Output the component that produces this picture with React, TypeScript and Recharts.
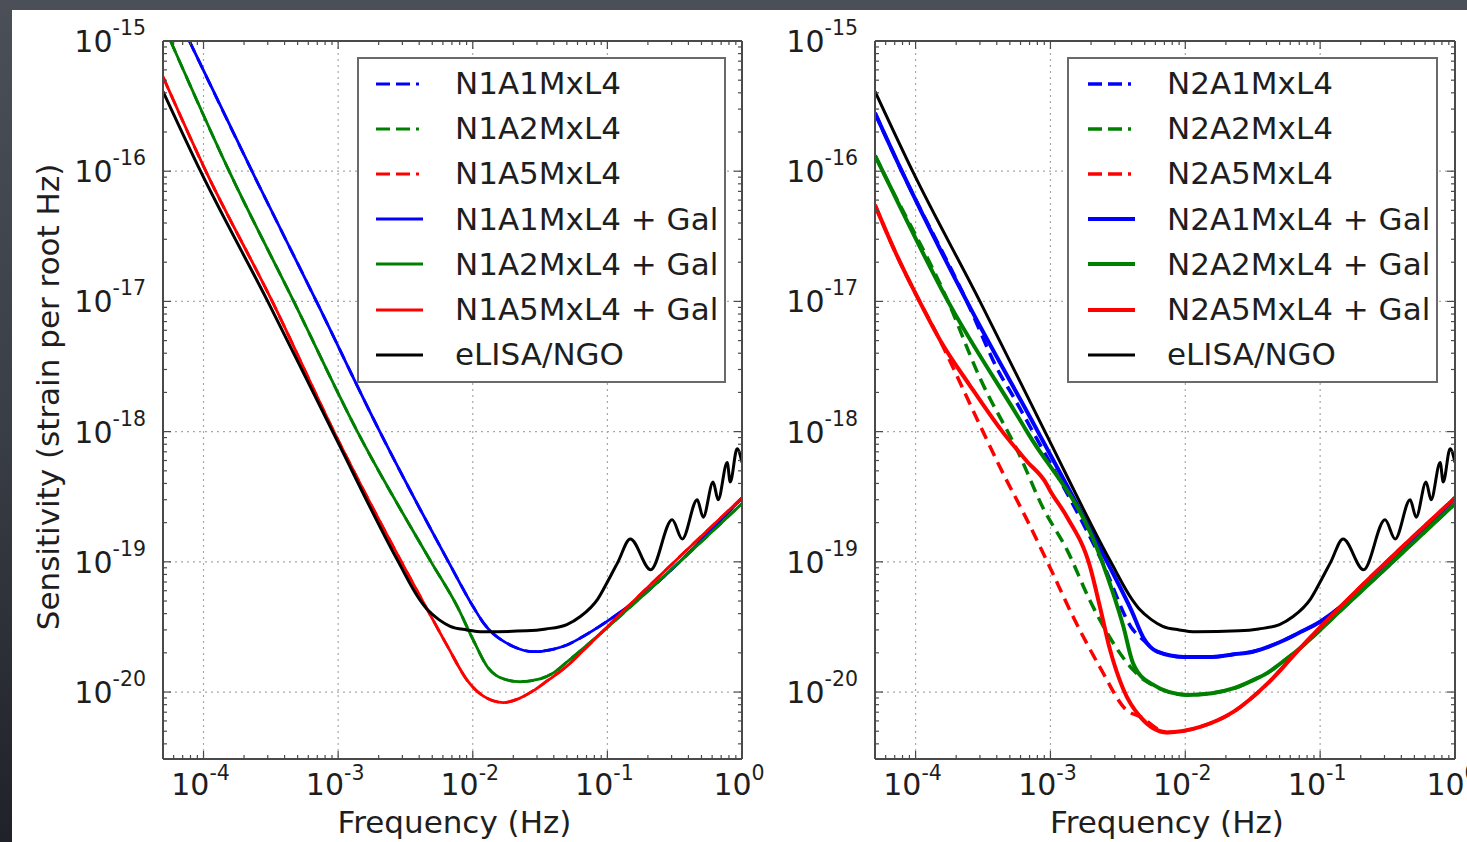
import React from 'react';
import { LineChart, Line, XAxis, YAxis, CartesianGrid, Legend } from 'recharts';

type Pt = [number, number]; // [frequency Hz, strain per root Hz]

// eLISA/NGO reference sensitivity (same curve on both panels)
const elisaNgo: Pt[] = [
  [5.0e-5, 4.1e-16], [9.5e-5, 1.0e-16], [3.0e-4, 1.0e-17], [9.1e-4, 1.0e-18],
  [2.8e-3, 1.0e-19], [4.0e-3, 5.2e-20], [4.6e-3, 4.3e-20], [5.6e-3, 3.6e-20],
  [6.8e-3, 3.2e-20], [9.0e-3, 3.0e-20], [1.2e-2, 2.9e-20], [2.5e-2, 2.95e-20],
  [3.5e-2, 3.05e-20], [5.0e-2, 3.3e-20], [6.3e-2, 3.8e-20], [8.5e-2, 5.2e-20],
  [0.1, 7.0e-20], [0.12, 1.0e-19], [0.148, 1.5e-19], [0.21, 8.7e-20],
  [0.303, 2.1e-19], [0.36, 1.5e-19], [0.465, 3.0e-19], [0.515, 2.2e-19],
  [0.61, 4.1e-19], [0.665, 3.0e-19], [0.776, 5.8e-19], [0.818, 4.1e-19],
  [0.92, 7.4e-19], [1.0, 5.8e-19],
];

// left panel, N1 configurations
const n1a1Gal: Pt[] = [
  [7.85e-5, 1.0e-15], [2.29e-4, 1.0e-16], [6.9e-4, 1.0e-17], [2.04e-3, 1.0e-18],
  [6.6e-3, 1.0e-19], [1.01e-2, 4.5e-20], [1.2e-2, 3.4e-20], [1.42e-2, 2.8e-20],
  [1.7e-2, 2.45e-20], [2.0e-2, 2.24e-20], [2.8e-2, 2.04e-20], [4.0e-2, 2.14e-20],
  [5.0e-2, 2.3e-20], [6.3e-2, 2.6e-20], [0.1, 3.5e-20], [0.141, 4.5e-20],
  [1.0, 3.1e-19],
];
const n1a2Gal: Pt[] = [
  [5.69e-5, 1.0e-15], [1.55e-4, 1.0e-16], [4.68e-4, 1.0e-17], [1.39e-3, 1.0e-18],
  [4.9e-3, 1.0e-19], [7.7e-3, 4.5e-20], [1.01e-2, 2.5e-20], [1.29e-2, 1.55e-20],
  [1.6e-2, 1.29e-20], [2.25e-2, 1.2e-20], [3.16e-2, 1.26e-20], [4.0e-2, 1.41e-20],
  [5.0e-2, 1.7e-20], [7.1e-2, 2.3e-20], [0.141, 4.3e-20], [1.0, 2.8e-19],
];
const n1a5Gal: Pt[] = [
  [5.0e-5, 5.3e-16], [1.04e-4, 1.0e-16], [3.24e-4, 1.0e-17], [9.3e-4, 1.0e-18],
  [2.95e-3, 1.0e-19], [4.6e-3, 4.3e-20], [6.5e-3, 2.24e-20], [9.1e-3, 1.23e-20],
  [1.2e-2, 9.3e-21], [1.69e-2, 8.3e-21], [2.2e-2, 8.9e-21], [2.8e-2, 1.02e-20],
  [3.5e-2, 1.2e-20], [5.0e-2, 1.58e-20], [7.1e-2, 2.24e-20], [0.141, 4.5e-20],
  [1.0, 3.1e-19],
];
// without the galaxy the N1 curves lie under the "+ Gal" ones
const n1a1 = n1a1Gal;
const n1a2 = n1a2Gal;
const n1a5 = n1a5Gal;

// right panel, N2 configurations
const n2a1: Pt[] = [
  [5.0e-5, 2.8e-16], [7.9e-5, 1.0e-16], [2.4e-4, 1.0e-17], [4.2e-4, 2.8e-18],
  [5.3e-4, 1.86e-18], [7.4e-4, 1.0e-18], [2.42e-3, 1.0e-19], [4.1e-3, 3.0e-20],
  [4.9e-3, 2.5e-20], [6.2e-3, 2.04e-20], [9.7e-3, 1.86e-20], [1.58e-2, 1.86e-20],
  [2.3e-2, 1.95e-20], [3.16e-2, 2.04e-20], [5.4e-2, 2.5e-20], [7.2e-2, 2.9e-20],
  [0.1, 3.47e-20], [0.141, 4.5e-20], [1.0, 3.1e-19],
];
const n2a2: Pt[] = [
  [5.0e-5, 1.32e-16], [5.7e-5, 1.0e-16], [1.74e-4, 1.0e-17], [2.99e-4, 2.6e-18],
  [5.9e-4, 6.6e-19], [8.8e-4, 2.6e-19], [1.33e-3, 1.23e-19], [1.97e-3, 5.0e-20],
  [2.77e-3, 2.6e-20], [4.1e-3, 1.48e-20], [5.0e-3, 1.23e-20], [1.04e-2, 9.5e-21],
  [1.58e-2, 9.8e-21], [2.3e-2, 1.07e-20], [3.16e-2, 1.23e-20], [4.1e-2, 1.41e-20],
  [5.4e-2, 1.74e-20], [7.2e-2, 2.2e-20], [0.141, 4.2e-20], [1.0, 2.8e-19],
];
const n2a5: Pt[] = [
  [5.0e-5, 5.5e-17], [7.0e-5, 2.45e-17], [1.07e-4, 1.0e-17], [1.27e-4, 7.2e-18],
  [3.16e-4, 1.0e-18], [4.2e-4, 5.4e-19], [6.7e-4, 2.1e-19], [9.9e-4, 9.1e-20],
  [1.47e-3, 3.8e-20], [2.33e-3, 1.55e-20], [3.7e-3, 7.2e-21], [4.6e-3, 6.5e-21],
  [7.3e-3, 4.9e-21], [1.29e-2, 5.4e-21], [2.3e-2, 7.1e-21], [4.1e-2, 1.17e-20],
  [7.2e-2, 2.2e-20], [0.141, 4.5e-20], [1.0, 3.1e-19],
];
const n2a1Gal: Pt[] = [
  [5.0e-5, 2.8e-16], [7.9e-5, 1.0e-16], [2.4e-4, 1.0e-17], [8.07e-4, 1.0e-18],
  [2.63e-3, 1.0e-19], [4.0e-3, 4.2e-20], [4.9e-3, 2.6e-20], [6.2e-3, 2.04e-20],
  [9.7e-3, 1.86e-20], [1.58e-2, 1.86e-20], [2.3e-2, 1.95e-20], [3.16e-2, 2.04e-20],
  [5.4e-2, 2.5e-20], [7.2e-2, 2.9e-20], [0.1, 3.47e-20], [0.141, 4.5e-20],
  [1.0, 3.1e-19],
];
const n2a2Gal: Pt[] = [
  [5.0e-5, 1.32e-16], [5.7e-5, 1.0e-16], [1.74e-4, 1.0e-17], [6.7e-4, 1.0e-18],
  [2.42e-3, 1.0e-19], [3.47e-3, 3.2e-20], [4.1e-3, 1.66e-20], [5.5e-3, 1.17e-20],
  [1.04e-2, 9.5e-21], [1.58e-2, 9.8e-21], [2.3e-2, 1.07e-20], [3.16e-2, 1.23e-20],
  [4.1e-2, 1.41e-20], [5.4e-2, 1.74e-20], [7.2e-2, 2.2e-20], [0.141, 4.2e-20],
  [1.0, 2.8e-19],
];
const n2a5Gal: Pt[] = [
  [5.0e-5, 5.5e-17], [7.0e-5, 2.45e-17], [1.07e-4, 1.0e-17], [1.58e-4, 4.7e-18],
  [2.5e-4, 2.3e-18], [4.4e-4, 1.0e-18], [6.7e-4, 5.9e-19], [9.3e-4, 4.0e-19],
  [9.9e-4, 3.55e-19], [1.33e-3, 2.2e-19], [1.97e-3, 9.1e-20], [2.33e-3, 4.5e-20],
  [2.77e-3, 2.1e-20], [3.47e-3, 1.05e-20], [4.6e-3, 6.5e-21], [7.3e-3, 4.9e-21],
  [1.29e-2, 5.4e-21], [2.3e-2, 7.1e-21], [4.1e-2, 1.17e-20], [7.2e-2, 2.2e-20],
  [0.141, 4.5e-20], [1.0, 3.1e-19],
];

const freqMajor = [1e-4, 1e-3, 1e-2, 1e-1, 1];
const strainMajor = [1e-20, 1e-19, 1e-18, 1e-17, 1e-16, 1e-15];
const freqDomain = [5e-5, 1];
const strainDomain = [3.06e-21, 1e-15];

const minorSteps = [2, 3, 4, 5, 6, 7, 8, 9];
const minorOf = (decades: number[], lo: number, hi: number) =>
  decades.flatMap((d) => minorSteps.map((m) => m * d)).filter((v) => v > lo * 1.01 && v < hi * 0.99);
const freqTicks = [...freqMajor, ...minorOf([1e-5, 1e-4, 1e-3, 1e-2, 1e-1], freqDomain[0], freqDomain[1])].sort((a, b) => a - b);
const strainTicks = [...strainMajor, ...minorOf([1e-21, 1e-20, 1e-19, 1e-18, 1e-17, 1e-16], strainDomain[0], strainDomain[1])].sort((a, b) => a - b);

const BLUE = '#0000ff';
const GREEN = '#008000';
const RED = '#ff0000';
const BLACK = '#000000';
const AXIS = '#4a4a4a';
const GRID = '#a8a8a8';
const TEXT = '#1e1e1e';
const FONT = '"DejaVu Sans", Verdana, sans-serif';

const isMajor = (v: number) => Math.abs(Math.log10(v) - Math.round(Math.log10(v))) < 1e-6;
const expOf = (v: number) => String(Math.round(Math.log10(v)));
const rows = (pts: Pt[]) => pts.map(([f, h]) => ({ f, h }));

const BottomTick = (p: any) => {
  const major = isMajor(p.payload.value);
  return (
    <g>
      <line x1={p.x} x2={p.x} y1={p.y} y2={p.y - (major ? 8 : 4)} stroke={AXIS} strokeWidth={1.2} />
      {major && (
        <text x={p.x - 3} y={p.y + 36} textAnchor="middle" fontFamily={FONT} fontSize={30} fill={TEXT}>
          10<tspan dy={-15} fontSize={20.5}>{expOf(p.payload.value)}</tspan>
        </text>
      )}
    </g>
  );
};
const TopTick = (p: any) => {
  const major = isMajor(p.payload.value);
  return <line x1={p.x} x2={p.x} y1={p.y} y2={p.y + (major ? 8 : 4)} stroke={AXIS} strokeWidth={1.2} />;
};
const LeftTick = (p: any) => {
  const major = isMajor(p.payload.value);
  return (
    <g>
      <line x1={p.x} x2={p.x + (major ? 8 : 4)} y1={p.y} y2={p.y} stroke={AXIS} strokeWidth={1.2} />
      {major && (
        <text x={p.x - 17} y={p.y + 11} textAnchor="end" fontFamily={FONT} fontSize={30} fill={TEXT}>
          10<tspan dy={-17} fontSize={20.5}>{expOf(p.payload.value)}</tspan>
        </text>
      )}
    </g>
  );
};
const RightTick = (p: any) => {
  const major = isMajor(p.payload.value);
  return <line x1={p.x} x2={p.x - (major ? 8 : 4)} y1={p.y} y2={p.y} stroke={AXIS} strokeWidth={1.2} />;
};

const XTitle = (p: any) => {
  const vb = p.viewBox;
  return (
    <text x={vb.x + vb.width / 2 + 2} y={vb.y + 74} textAnchor="middle" fontFamily={FONT} fontSize={31} fill={TEXT}>
      Frequency (Hz)
    </text>
  );
};
const YTitle = (p: any) => {
  const vb = p.viewBox;
  return (
    <text transform="rotate(-90)" x={-(vb.y + vb.height / 2 - 3)} y={vb.x + 59} textAnchor="middle" fontFamily={FONT} fontSize={31} fill={TEXT}>
      Sensitivity (strain per root Hz)
    </text>
  );
};

type Series = { name: string; pts: Pt[]; color: string; dash: boolean };

const leftSeries: Series[] = [
  { name: 'N1A1MxL4', pts: n1a1, color: BLUE, dash: true },
  { name: 'N1A2MxL4', pts: n1a2, color: GREEN, dash: true },
  { name: 'N1A5MxL4', pts: n1a5, color: RED, dash: true },
  { name: 'N1A1MxL4 + Gal', pts: n1a1Gal, color: BLUE, dash: false },
  { name: 'N1A2MxL4 + Gal', pts: n1a2Gal, color: GREEN, dash: false },
  { name: 'N1A5MxL4 + Gal', pts: n1a5Gal, color: RED, dash: false },
  { name: 'eLISA/NGO', pts: elisaNgo, color: BLACK, dash: false },
];
const rightSeries: Series[] = [
  { name: 'N2A1MxL4', pts: n2a1, color: BLUE, dash: true },
  { name: 'N2A2MxL4', pts: n2a2, color: GREEN, dash: true },
  { name: 'N2A5MxL4', pts: n2a5, color: RED, dash: true },
  { name: 'N2A1MxL4 + Gal', pts: n2a1Gal, color: BLUE, dash: false },
  { name: 'N2A2MxL4 + Gal', pts: n2a2Gal, color: GREEN, dash: false },
  { name: 'N2A5MxL4 + Gal', pts: n2a5Gal, color: RED, dash: false },
  { name: 'eLISA/NGO', pts: elisaNgo, color: BLACK, dash: false },
];

type PanelProps = {
  series: Series[];
  width: number;
  marginRight: number;
  yTitle: boolean;
  legendLeft: number;
  legendWidth: number;
  sampleGap: number;
  dashW: number;
  solidW: number;
};

const LegendBox = ({ series, width, sampleGap, dashW, solidW }: { series: Series[]; width: number; sampleGap: number; dashW: number; solidW: number }) => (
  <div
    style={{
      boxSizing: 'border-box', width, height: 326, border: '2px solid #6a6a6a', background: '#fff',
      paddingTop: 2, fontFamily: FONT, fontSize: 31, color: TEXT,
    }}
  >
    {series.map((s) => (
      <div key={s.name} style={{ display: 'flex', alignItems: 'center', height: 45.2, whiteSpace: 'nowrap' }}>
        <svg width={48} height={10} style={{ marginLeft: sampleGap, flex: 'none' }}>
          <line
            x1={0} x2={s.dash ? 43 : 47} y1={5} y2={5} stroke={s.color}
            strokeWidth={s.color === BLACK ? 3 : s.dash ? dashW : solidW}
            strokeDasharray={s.dash ? '14 6' : undefined}
          />
        </svg>
        <span style={{ marginLeft: 31, lineHeight: '31px' }}>{s.name}</span>
      </div>
    ))}
  </div>
);

const Panel = ({ series, width, marginRight, yTitle, legendLeft, legendWidth, sampleGap, dashW, solidW }: PanelProps) => (
  <LineChart width={width} height={842} margin={{ top: 40, right: marginRight, bottom: 3, left: 0 }}>
    <CartesianGrid
      xAxisId="b" yAxisId="l"
      verticalValues={freqMajor} horizontalValues={strainMajor}
      stroke={GRID} strokeDasharray="2 4" strokeWidth={1.2}
    />
    <XAxis
      xAxisId="b" type="number" dataKey="f" scale="log" domain={freqDomain} allowDataOverflow
      ticks={freqTicks} interval={0} tickSize={0} tickMargin={0} tickLine={false}
      tick={BottomTick} height={80} axisLine={{ stroke: AXIS, strokeWidth: 2 }}
      label={{ content: XTitle }}
    />
    <XAxis
      xAxisId="t" orientation="top" type="number" dataKey="f" scale="log" domain={freqDomain} allowDataOverflow
      ticks={freqTicks} interval={0} tickSize={0} tickMargin={0} tickLine={false}
      tick={TopTick} height={1} axisLine={{ stroke: AXIS, strokeWidth: 2 }}
    />
    <YAxis
      yAxisId="l" type="number" scale="log" domain={strainDomain} allowDataOverflow
      ticks={strainTicks} interval={0} tickSize={0} tickMargin={0} tickLine={false}
      tick={LeftTick} width={163} axisLine={{ stroke: AXIS, strokeWidth: 2 }}
      label={yTitle ? { content: YTitle } : undefined}
    />
    <YAxis
      yAxisId="r" orientation="right" type="number" scale="log" domain={strainDomain} allowDataOverflow
      ticks={strainTicks} interval={0} tickSize={0} tickMargin={0} tickLine={false}
      tick={RightTick} width={1} axisLine={{ stroke: AXIS, strokeWidth: 2 }}
    />
    {series.map((s) => (
      <Line
        key={s.name}
        xAxisId="b" yAxisId="l"
        data={rows(s.pts)} dataKey="h" name={s.name}
        type="monotone" dot={false} activeDot={false}
        stroke={s.color}
        strokeWidth={s.color === BLACK ? 3 : s.dash ? dashW : solidW}
        strokeDasharray={s.dash ? '12 7' : undefined}
        isAnimationActive={false}
      />
    ))}
    <Legend
      layout="vertical" align="center" verticalAlign="middle"
      wrapperStyle={{ left: legendLeft, top: 57, width: legendWidth, height: 326 }}
      content={() => <LegendBox series={series} width={legendWidth} sampleGap={sampleGap} dashW={dashW} solidW={solidW} />}
    />
  </LineChart>
);

export default function App() {
  return (
    <div
      style={{
        position: 'absolute', left: 0, top: 0, width: 1467, height: 842, overflow: 'hidden',
        background: 'linear-gradient(to bottom, #4b4f58 0%, #3a3e46 50%, #1f2228 100%)',
      }}
    >
      <div style={{ position: 'absolute', left: 12, top: 10, right: 0, bottom: 0, background: '#ffffff' }} />
      <div style={{ position: 'absolute', left: 0, top: 0 }}>
        <Panel series={leftSeries} width={790} marginRight={47} yTitle legendLeft={357} legendWidth={369} sampleGap={17} dashW={2.8} solidW={2.8} />
      </div>
      <div style={{ position: 'absolute', left: 712, top: 0 }}>
        <Panel series={rightSeries} width={761} marginRight={17} yTitle={false} legendLeft={355} legendWidth={371} sampleGap={19} dashW={3.5} solidW={4} />
      </div>
    </div>
  );
}
